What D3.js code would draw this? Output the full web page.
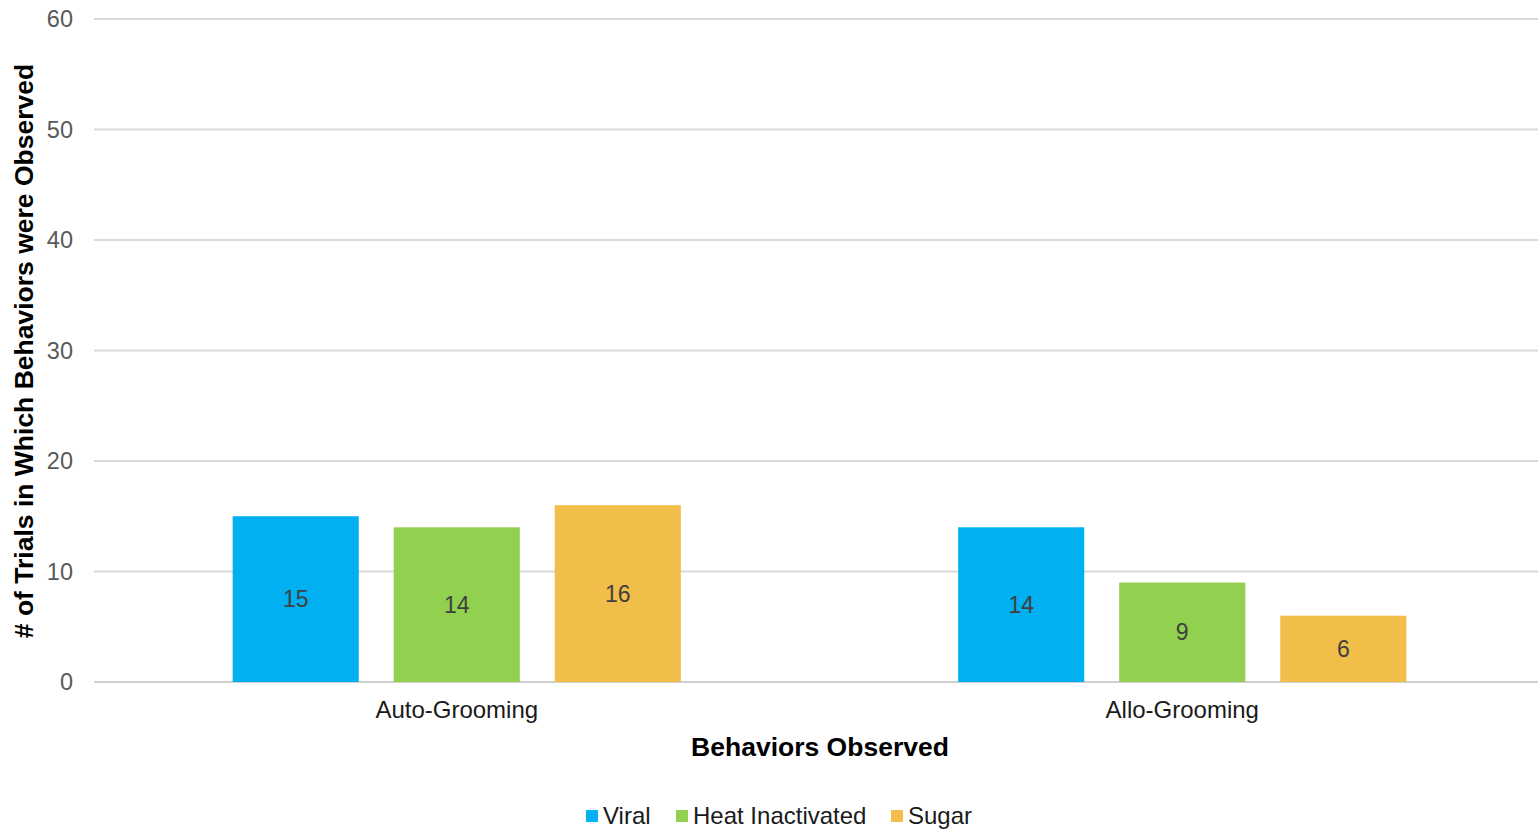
<!DOCTYPE html>
<html>
<head>
<meta charset="utf-8">
<script src="https://cdn.jsdelivr.net/npm/d3@7"></script>
<style>
  html, body { margin: 0; padding: 0; background: #fff; }
  svg { display: block; font-family: "Liberation Sans", Arial, sans-serif; }
</style>
</head>
<body>
<svg id="chart" width="1538" height="829"></svg>
<script>
// Behaviour counts per treatment
const categories = ["Auto-Grooming", "Allo-Grooming"];
const seriesNames = ["Viral", "Heat Inactivated", "Sugar"];
const viral = [15, 14];
const heatInactivated = [14, 9];
const sugar = [16, 6];
const yTicks = [0, 10, 20, 30, 40, 50, 60];
const colors = ["#00B0F0", "#92D050", "#F2BE4A"];

const seriesValues = [viral, heatInactivated, sugar];

const svg = d3.select("#chart");
const W = 1538;

const x = d3.scaleBand().domain(categories).range([94, 1545]).paddingInner(0).paddingOuter(0);
const xs = d3.scaleBand().domain(seriesNames).range([0, x.bandwidth()])
  .paddingInner(0.217).paddingOuter(0.861);
const y = d3.scaleLinear().domain([0, 60]).range([682, 19]);

// gridlines
svg.append("g").selectAll("line").data(yTicks).join("line")
  .attr("x1", 94).attr("x2", W)
  .attr("y1", d => y(d)).attr("y2", d => y(d))
  .attr("stroke", d => d === 0 ? "#d0d0d0" : "#d9d9d9")
  .attr("stroke-width", 2);

// y tick labels
svg.append("g").selectAll("text").data(yTicks).join("text")
  .attr("x", 73).attr("y", d => y(d)).attr("dy", "0.35em")
  .attr("text-anchor", "end")
  .attr("fill", "#595959").attr("font-size", 23.5)
  .text(d => d);

// bars
const groups = svg.append("g").selectAll("g").data(categories).join("g")
  .attr("transform", d => `translate(${x(d)},0)`);

seriesNames.forEach((s, si) => {
  groups.append("rect")
    .attr("x", xs(s))
    .attr("width", xs.bandwidth())
    .attr("y", (c, ci) => y(seriesValues[si][ci]))
    .attr("height", (c, ci) => y(0) - y(seriesValues[si][ci]))
    .attr("fill", colors[si]);
  groups.append("text")
    .attr("x", xs(s) + xs.bandwidth() / 2)
    .attr("y", (c, ci) => y(seriesValues[si][ci] / 2))
    .attr("dy", "0.35em")
    .attr("text-anchor", "middle")
    .attr("fill", "#404040").attr("font-size", 23)
    .text((c, ci) => seriesValues[si][ci]);
});

// category labels
svg.append("g").selectAll("text").data(categories).join("text")
  .attr("x", d => x(d) + x.bandwidth() / 2).attr("y", 710).attr("dy", "0.35em")
  .attr("text-anchor", "middle").attr("fill", "#1a1a1a").attr("font-size", 24)
  .text(d => d);

// axis titles
svg.append("text")
  .attr("x", 820).attr("y", 747).attr("dy", "0.35em")
  .attr("text-anchor", "middle").attr("font-weight", "bold").attr("font-size", 26.5)
  .attr("fill", "#000").text("Behaviors Observed");

svg.append("text")
  .attr("transform", "translate(24,351) rotate(-90)")
  .attr("dy", "0.35em")
  .attr("text-anchor", "middle").attr("font-weight", "bold").attr("font-size", 26.5)
  .attr("fill", "#000").text("# of Trials in Which Behaviors were Observed");

// legend
const legendItems = [
  { name: seriesNames[0], x: 586 },
  { name: seriesNames[1], x: 676 },
  { name: seriesNames[2], x: 891 }
];
const lg = svg.append("g").selectAll("g").data(legendItems).join("g")
  .attr("transform", d => `translate(${d.x},816)`);
lg.append("rect").attr("x", 0).attr("y", -6).attr("width", 12).attr("height", 12)
  .attr("fill", (d, i) => colors[i]);
lg.append("text").attr("x", 17).attr("y", 0).attr("dy", "0.35em")
  .attr("font-size", 24).attr("fill", "#1a1a1a").text(d => d.name);
</script>
</body>
</html>
